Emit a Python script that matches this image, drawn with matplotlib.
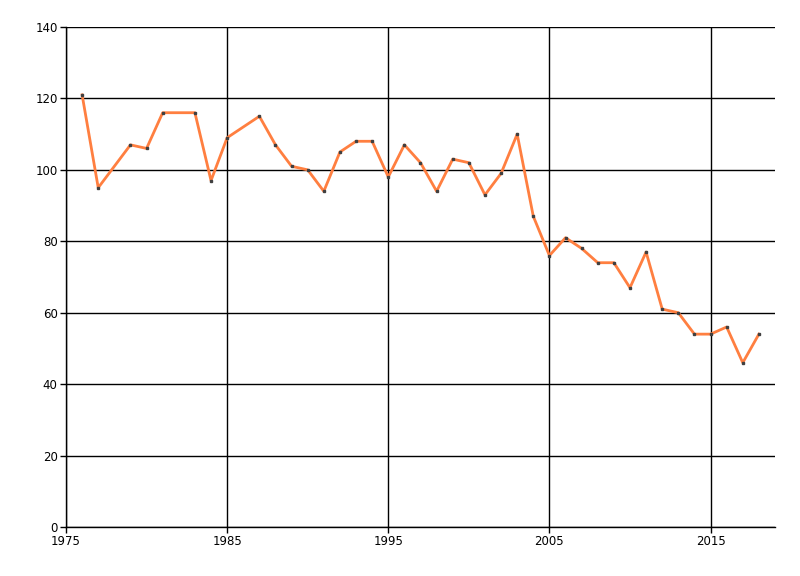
import matplotlib
matplotlib.use("Agg")
import matplotlib.pyplot as plt

# Data (1978, 1982 and 1986 have no point in the source chart)
years = [1976, 1977, 1979, 1980, 1981, 1983, 1984, 1985,
         1987, 1988, 1989, 1990, 1991, 1992, 1993, 1994, 1995,
         1996, 1997, 1998, 1999, 2000, 2001, 2002, 2003, 2004, 2005,
         2006, 2007, 2008, 2009, 2010, 2011, 2012, 2013, 2014, 2015,
         2016, 2017, 2018]
values = [121, 95, 107, 106, 116, 116, 97, 109,
          115, 107, 101, 100, 94, 105, 108, 108, 98,
          107, 102, 94, 103, 102, 93, 99, 110, 87, 76,
          81, 78, 74, 74, 67, 77, 61, 60, 54, 54,
          56, 46, 54]
x_ticks = [1975, 1985, 1995, 2005, 2015]
y_ticks = [0, 20, 40, 60, 80, 100, 120, 140]

plt.rcParams['font.family'] = ['Liberation Sans Narrow', 'DejaVu Sans']

fig = plt.figure(figsize=(8, 5.76), dpi=100)
ax = fig.add_axes([66 / 800, 49 / 576, 709 / 800, 500 / 576])

ax.plot(years, values, color='#FF7F40', linewidth=2, zorder=3)
ax.plot(years, values, linestyle='none', marker='s', markersize=1.6,
        color='#404040', zorder=4)

ax.set_xlim(1975, 2019)
ax.set_ylim(0, 140)
ax.set_xticks(x_ticks)
ax.set_yticks(y_ticks)
ax.grid(True, color='black', linewidth=1)
ax.set_axisbelow(True)

for side in ['top', 'right']:
    ax.spines[side].set_visible(False)
for side in ['left', 'bottom']:
    ax.spines[side].set_linewidth(1)
ax.tick_params(direction='out', length=4, width=1, labelsize=8.5, pad=2)

plt.savefig('out.png', dpi=100)
